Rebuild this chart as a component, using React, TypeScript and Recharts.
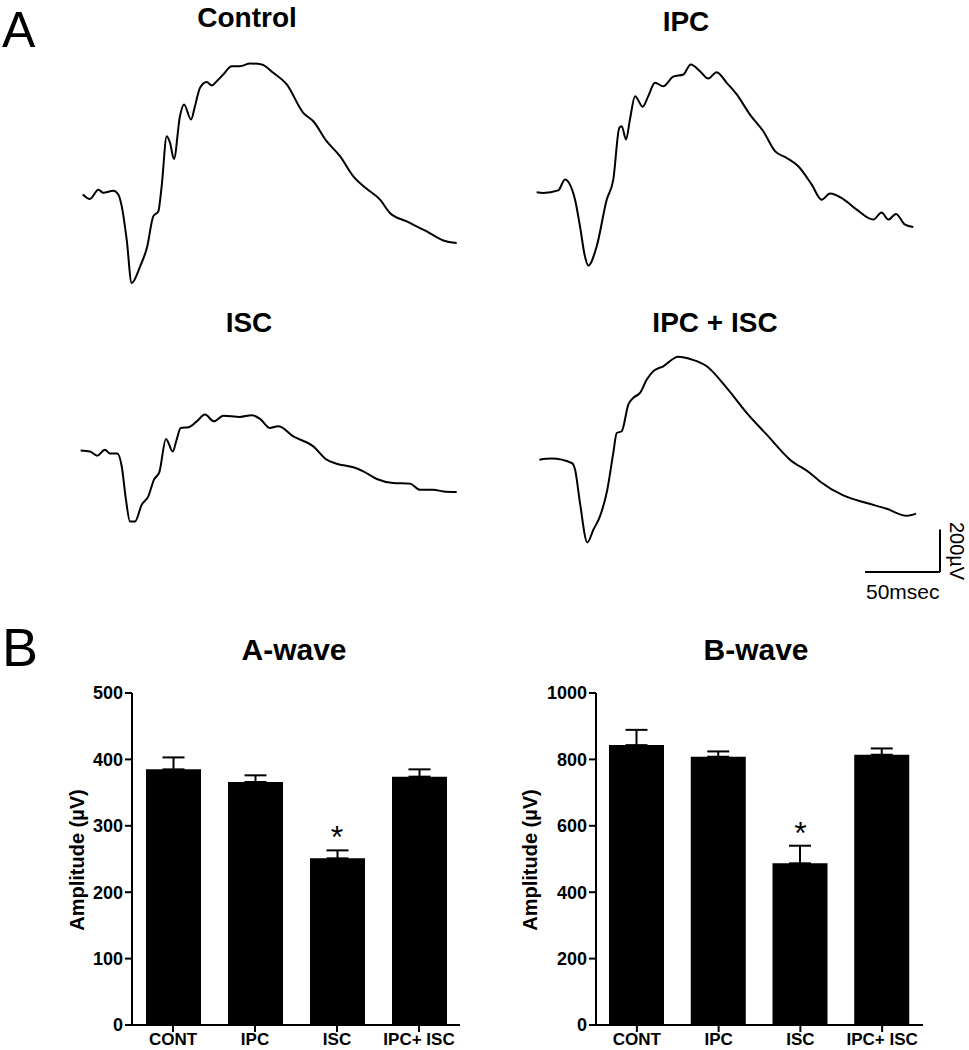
import React from "react";
import {
  LineChart,
  Line,
  XAxis,
  YAxis,
  ReferenceLine,
  ComposedChart,
  Bar,
  ErrorBar,
  Scatter,
} from "recharts";

// ERG sweeps: [time (ms from sweep start), amplitude (µV, 0 = pre-stimulus baseline)]
const CONTROL_TRACE = [
  [0.5, -9], [5.3, -30], [10.9, 14], [14.2, -1], [20.9, 9], [24.2, -9], [26.5, -65],
  [29.8, -222], [33.1, -427], [38.7, -349], [43.5, -254], [47.5, -112], [50.9, -88],
  [53.1, 30], [56.5, 266], [58.7, 235], [61.3, 159], [65.3, 361], [68, 416], [72.7, 345],
  [75.3, 408], [78.7, 495], [83.1, 522], [86.5, 506], [89.8, 526], [94.2, 558], [99.8, 597],
  [105.3, 597], [112, 610], [119.8, 605], [127.5, 566], [136.5, 511], [147.5, 377],
  [154.2, 337], [163.1, 243], [172, 172], [180.9, 77], [189.8, 18], [198.7, -33],
  [205.3, -96], [216.5, -136], [229.8, -183], [240.9, -226], [249.8, -238],
];

const IPC_TRACE = [
  [-0.9, -3], [3.5, -6], [13.5, 6], [18, 57], [21.3, 33], [24.7, -38], [28, -164],
  [31.3, -306], [33.5, -349], [39.1, -259], [45.8, -38], [50.2, 57], [54.2, 301],
  [55.8, 309], [58.7, 246], [61.3, 341], [64.7, 451], [69.8, 401], [73.5, 451], [78, 514],
  [83.5, 498], [90.2, 543], [96.9, 553], [101.8, 601], [108, 569], [113.5, 534],
  [119.1, 564], [125.8, 514], [132.5, 459], [141.3, 364], [150.2, 285], [158, 191],
  [165.8, 159], [173.5, 120], [182.5, 33], [189.1, -38], [194.7, -9], [203.5, -35],
  [212.5, -85], [223.5, -132], [229.1, -98], [233.5, -132], [238.7, -105], [244.7, -156],
  [250.2, -167],
];

const ISC_TRACE = [
  [-0.9, 6], [5.3, 1], [10.2, -19], [15.3, 9], [18.7, -9], [23.5, -9], [26.5, -70],
  [29.3, -227], [32, -330], [35.3, -330], [39.8, -251], [44.2, -211], [48, -132],
  [51.5, -98], [56, 60], [60.5, 1], [63.1, 57], [65.8, 112], [70.9, 115], [76.5, 143],
  [82, 175], [88, 143], [94.2, 170], [105.3, 164], [113.1, 172], [118.7, 155], [125.3, 112],
  [130.9, 120], [140.9, 72], [154.2, 25], [163.1, -38], [169.8, -57], [180.9, -74],
  [187.5, -93], [196.5, -129], [207.5, -148], [218.7, -151], [225.3, -180], [234.2, -180],
  [240.9, -188], [249.8, -191],
];

const IPC_ISC_TRACE = [
  [0.9, 0], [9.1, 5], [22.5, -16], [24.7, -47], [28, -205], [32.9, -391], [36.9, -331],
  [41.3, -268], [46.2, -142], [50.2, 32], [52.5, 126], [55.8, 134], [60.2, 260],
  [63.5, 292], [68, 315], [72.5, 378], [76.9, 418], [83.5, 441], [93.5, 486], [102.5, 473],
  [112.5, 441], [125.8, 339], [139.1, 221], [152.5, 118], [168, 0], [181.3, -63],
  [188, -103], [203.5, -169], [219.1, -205], [232.5, -232], [245.8, -265], [252, -255],
];

// scale bar
const SCALE_MS = 50;
const SCALE_UV = 200;

// panel B
const GROUPS = ["CONT", "IPC", "ISC", "IPC+ ISC"];
const AWAVE_MEAN = [385, 366, 251, 374];
const AWAVE_SEM = [18, 10, 12, 11];
const BWAVE_MEAN = [843, 808, 487, 814];
const BWAVE_SEM = [46, 16, 53, 19];
const SIGNIFICANT = [false, false, true, false];
const AWAVE_TICKS = [0, 100, 200, 300, 400, 500];
const BWAVE_TICKS = [0, 200, 400, 600, 800, 1000];

const FONT = "'Liberation Sans', Arial, Helvetica, sans-serif";

const TRACE_W = 408;
const TRACE_H = 252;
const T_DOMAIN = [-2, 270];
const UV_DOMAIN = [-540, 650];

const Title = ({ text, x, top, size = 28 }: any) => (
  <div
    style={{
      position: "absolute",
      left: x,
      top,
      transform: "translateX(-50%)",
      fontSize: size,
      fontWeight: "bold",
      lineHeight: 1,
      whiteSpace: "nowrap",
    }}
  >
    {text}
  </div>
);

const Trace = ({ points, left, top, scaleBar }: any) => {
  const data = points.map(([t, uv]: number[]) => ({ t, uv }));
  const barEnd = T_DOMAIN[1] - 2;
  const barBase = UV_DOMAIN[0] + 10;
  return (
    <div style={{ position: "absolute", left, top }}>
      <LineChart
        width={TRACE_W}
        height={TRACE_H}
        data={data}
        margin={{ top: 0, right: 0, bottom: 0, left: 0 }}
      >
        <XAxis dataKey="t" type="number" domain={T_DOMAIN} hide />
        <YAxis type="number" domain={UV_DOMAIN} hide />
        <Line
          dataKey="uv"
          type="monotoneX"
          stroke="#000"
          strokeWidth={2}
          dot={false}
          isAnimationActive={false}
        />
        {scaleBar && (
          <ReferenceLine
            segment={[
              { x: barEnd - SCALE_MS, y: barBase },
              { x: barEnd, y: barBase },
            ]}
            stroke="#000"
            strokeWidth={2}
            ifOverflow="visible"
          />
        )}
        {scaleBar && (
          <ReferenceLine
            segment={[
              { x: barEnd, y: barBase },
              { x: barEnd, y: barBase + SCALE_UV },
            ]}
            stroke="#000"
            strokeWidth={2}
            ifOverflow="visible"
          />
        )}
      </LineChart>
    </div>
  );
};

const StarShape = (props: any) => {
  const { cx, cy, payload } = props;
  if (!payload || payload.star == null || !isFinite(cy)) return <g />;
  return (
    <text x={cx} y={cy - 2} textAnchor="middle" fontSize={32} fontFamily={FONT} fill="#000">
      *
    </text>
  );
};

const WaveBars = ({ means, sems, ticks, left, width, marginLeft, marginRight }: any) => {
  const data = GROUPS.map((g, i) => ({
    group: g,
    mean: means[i],
    err: [0, sems[i]],
    star: SIGNIFICANT[i] ? means[i] + sems[i] : null,
  }));
  const axisStyle = { stroke: "#000", strokeWidth: 2 };
  const tickStyle = { fill: "#000", fontSize: 18, fontWeight: "bold", fontFamily: FONT };
  return (
    <div style={{ position: "absolute", left, top: 640 }}>
      <ComposedChart
        width={width}
        height={410}
        data={data}
        margin={{ top: 53, right: marginRight, bottom: 0, left: marginLeft }}
      >
        <XAxis
          dataKey="group"
          type="category"
          allowDuplicatedCategory={false}
          height={25}
          interval={0}
          tickSize={7}
          tickMargin={1}
          axisLine={axisStyle}
          tickLine={axisStyle}
          tick={{ ...tickStyle, fontSize: 17 }}
        />
        <YAxis
          type="number"
          domain={[0, ticks[ticks.length - 1]]}
          ticks={ticks}
          interval={0}
          width={60}
          tickSize={7}
          tickMargin={2}
          axisLine={axisStyle}
          tickLine={axisStyle}
          tick={tickStyle}
        />
        <Bar dataKey="mean" fill="#000" barSize={55} isAnimationActive={false}>
          <ErrorBar
            dataKey="err"
            direction="y"
            width={11}
            stroke="#000"
            strokeWidth={2}
            isAnimationActive={false}
          />
        </Bar>
        <Scatter dataKey="star" shape={StarShape} isAnimationActive={false} />
      </ComposedChart>
    </div>
  );
};

const AxisTitle = ({ x, y }: any) => (
  <div
    style={{
      position: "absolute",
      left: x,
      top: y,
      transform: "translate(-50%, -50%) rotate(-90deg)",
      fontSize: 20,
      fontWeight: "bold",
      whiteSpace: "nowrap",
      lineHeight: 1,
    }}
  >
    Amplitude (µV)
  </div>
);

export default function App() {
  return (
    <div
      style={{
        position: "absolute",
        left: 0,
        top: 0,
        width: 969,
        height: 1050,
        background: "#fff",
        color: "#000",
        fontFamily: FONT,
        overflow: "hidden",
      }}
    >
      <div style={{ position: "absolute", left: 2, top: 3, fontSize: 50, lineHeight: 1.1 }}>A</div>
      <div style={{ position: "absolute", left: 2, top: 620, fontSize: 54, lineHeight: 1 }}>B</div>

      <Title text="Control" x={247} top={4} />
      <Title text="IPC" x={686} top={8} />
      <Title text="ISC" x={249} top={309} />
      <Title text="IPC + ISC" x={715} top={309} />

      <Trace points={CONTROL_TRACE} left={79} top={55} />
      <Trace points={IPC_TRACE} left={535} top={54} />
      <Trace points={ISC_TRACE} left={79} top={314} />
      <Trace points={IPC_ISC_TRACE} left={535} top={322} scaleBar />

      <div style={{ position: "absolute", left: 866, top: 581, fontSize: 21, lineHeight: 1 }}>
        50msec
      </div>
      <div
        style={{
          position: "absolute",
          left: 957,
          top: 551,
          transform: "translate(-50%, -50%) rotate(90deg)",
          fontSize: 20,
          lineHeight: 1,
          whiteSpace: "nowrap",
        }}
      >
        200µV
      </div>

      <Title text="A-wave" x={294} top={635} size={30} />
      <Title text="B-wave" x={756} top={635} size={30} />

      <WaveBars
        means={AWAVE_MEAN}
        sems={AWAVE_SEM}
        ticks={AWAVE_TICKS}
        left={0}
        width={480}
        marginLeft={72}
        marginRight={20}
      />
      <WaveBars
        means={BWAVE_MEAN}
        sems={BWAVE_SEM}
        ticks={BWAVE_TICKS}
        left={480}
        width={489}
        marginLeft={56}
        marginRight={46}
      />
      <AxisTitle x={77} y={860} />
      <AxisTitle x={530} y={860} />
    </div>
  );
}
